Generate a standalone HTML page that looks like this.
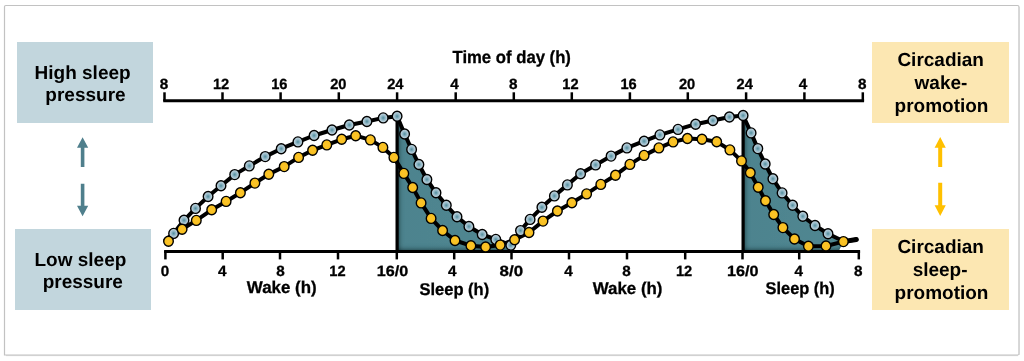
<!DOCTYPE html><html><head><meta charset="utf-8"><style>html,body{margin:0;padding:0;background:#fff;}svg{display:block;will-change:transform;}</style></head><body>
<svg width="1024" height="361" viewBox="0 0 1024 361" font-family='"Liberation Sans", sans-serif' text-rendering="geometricPrecision">
<defs>
<radialGradient id="bd" cx="50%" cy="50%" r="50%"><stop offset="0" stop-color="#4f8d9c"/><stop offset="0.45" stop-color="#93b7c6"/><stop offset="0.8" stop-color="#b8cfda"/><stop offset="1" stop-color="#cfe0e9"/></radialGradient>
<radialGradient id="yd" cx="50%" cy="50%" r="50%"><stop offset="0" stop-color="#fcc42a"/><stop offset="0.8" stop-color="#f8c020"/><stop offset="1" stop-color="#e9ae10"/></radialGradient>
<linearGradient id="fl" x1="0" y1="0" x2="1" y2="0"><stop offset="0" stop-color="#4d838e"/><stop offset="1" stop-color="#518791"/></linearGradient>
<filter id="ins" x="-5%" y="-5%" width="110%" height="110%"><feFlood flood-color="#0a2026" flood-opacity="1"/><feComposite in2="SourceAlpha" operator="out"/><feOffset dx="2.2" dy="-2.2"/><feGaussianBlur stdDeviation="2.4"/><feComposite in2="SourceAlpha" operator="in" result="sh"/><feMerge><feMergeNode in="SourceGraphic"/><feMergeNode in="sh"/></feMerge></filter>
</defs>
<rect width="1024" height="361" fill="#fff"/>
<path d="M4.5,355 L4.5,6.8 Q4.5,5.5 5.8,5.5 L1017.5,5.5 Q1019,5.5 1019,7 L1019,353.5 Q1019,355 1017.5,355 Z" fill="none" stroke="#c2c2c2" stroke-width="1.2"/>
<line x1="1019.2" y1="7" x2="1019.2" y2="355" stroke="#d4d4d4" stroke-width="1"/>
<line x1="6" y1="355.6" x2="1018" y2="355.6" stroke="#d0d0d0" stroke-width="1"/>
<rect x="17" y="42" width="136" height="81" fill="#c2d6dd"/>
<rect x="15" y="229" width="136" height="81" fill="#c2d6dd"/>
<rect x="872" y="42" width="137" height="81" fill="#fce7b2"/>
<rect x="872" y="229" width="137" height="81" fill="#fce7b2"/>
<text x="82.6" y="78.6" font-size="19" font-weight="bold" text-anchor="middle" fill="#000" >High sleep</text>
<text x="85.5" y="101.2" font-size="19" font-weight="bold" text-anchor="middle" fill="#000" >pressure</text>
<text x="80.4" y="265.5" font-size="19" font-weight="bold" text-anchor="middle" fill="#000" >Low sleep</text>
<text x="82.8" y="287.8" font-size="19" font-weight="bold" text-anchor="middle" fill="#000" >pressure</text>
<text x="940.7" y="66.1" font-size="19" font-weight="bold" text-anchor="middle" fill="#000" >Circadian</text>
<text x="941.0" y="89.1" font-size="19" font-weight="bold" text-anchor="middle" fill="#000" >wake-</text>
<text x="941.5" y="112.4" font-size="19" font-weight="bold" text-anchor="middle" fill="#000" >promotion</text>
<text x="940.7" y="253.2" font-size="19" font-weight="bold" text-anchor="middle" fill="#000" >Circadian</text>
<text x="940.1" y="276.1" font-size="19" font-weight="bold" text-anchor="middle" fill="#000" >sleep-</text>
<text x="941.5" y="298.7" font-size="19" font-weight="bold" text-anchor="middle" fill="#000" >promotion</text>
<path d="M82.6,137.2 L88.2,147.7 L84.4,147.7 L84.4,167.0 L80.8,167.0 L80.8,147.7 L77.0,147.7 Z" fill="#4f7f8c"/>
<path d="M82.6,216.3 L88.2,205.8 L84.4,205.8 L84.4,183.7 L80.8,183.7 L80.8,205.8 L77.0,205.8 Z" fill="#4f7f8c"/>
<path d="M940.2,136.9 L945.8,147.7 L942.2,147.7 L942.2,167.0 L938.2,167.0 L938.2,147.7 L934.6,147.7 Z" fill="#ffc000"/>
<path d="M940.2,216.1 L945.8,205.3 L942.2,205.3 L942.2,182.8 L938.2,182.8 L938.2,205.3 L934.6,205.3 Z" fill="#ffc000"/>
<line x1="163.2" y1="100.7" x2="864.1" y2="100.7" stroke="#000" stroke-width="2.9"/>
<line x1="164.5" y1="92.3" x2="164.5" y2="101" stroke="#000" stroke-width="2.5"/>
<line x1="222.5" y1="92.3" x2="222.5" y2="101" stroke="#000" stroke-width="2.5"/>
<line x1="280.6" y1="92.3" x2="280.6" y2="101" stroke="#000" stroke-width="2.5"/>
<line x1="338.8" y1="92.3" x2="338.8" y2="101" stroke="#000" stroke-width="2.5"/>
<line x1="397.1" y1="92.3" x2="397.1" y2="101" stroke="#000" stroke-width="2.5"/>
<line x1="455.7" y1="92.3" x2="455.7" y2="101" stroke="#000" stroke-width="2.5"/>
<line x1="513.8" y1="92.3" x2="513.8" y2="101" stroke="#000" stroke-width="2.5"/>
<line x1="571.8" y1="92.3" x2="571.8" y2="101" stroke="#000" stroke-width="2.5"/>
<line x1="629.9" y1="92.3" x2="629.9" y2="101" stroke="#000" stroke-width="2.5"/>
<line x1="687.8" y1="92.3" x2="687.8" y2="101" stroke="#000" stroke-width="2.5"/>
<line x1="746.1" y1="92.3" x2="746.1" y2="101" stroke="#000" stroke-width="2.5"/>
<line x1="804.4" y1="92.3" x2="804.4" y2="101" stroke="#000" stroke-width="2.5"/>
<line x1="862.8" y1="92.3" x2="862.8" y2="101" stroke="#000" stroke-width="2.5"/>
<text transform="translate(159.77,89.10) scale(1.030,1)" font-size="14.80" font-weight="bold" fill="#000" stroke="#000" stroke-width="0.3">8</text>
<text transform="translate(212.88,89.10) scale(0.990,1)" font-size="14.80" font-weight="bold" fill="#000" stroke="#000" stroke-width="0.3">12</text>
<text transform="translate(271.15,89.10) scale(0.990,1)" font-size="14.80" font-weight="bold" fill="#000" stroke="#000" stroke-width="0.3">16</text>
<text transform="translate(330.20,89.10) scale(0.990,1)" font-size="14.80" font-weight="bold" fill="#000" stroke="#000" stroke-width="0.3">20</text>
<text transform="translate(387.15,89.10) scale(0.990,1)" font-size="14.80" font-weight="bold" fill="#000" stroke="#000" stroke-width="0.3">24</text>
<text transform="translate(450.29,89.10) scale(1.030,1)" font-size="14.80" font-weight="bold" fill="#000" stroke="#000" stroke-width="0.3">4</text>
<text transform="translate(508.97,89.10) scale(1.030,1)" font-size="14.80" font-weight="bold" fill="#000" stroke="#000" stroke-width="0.3">8</text>
<text transform="translate(562.28,89.10) scale(0.990,1)" font-size="14.80" font-weight="bold" fill="#000" stroke="#000" stroke-width="0.3">12</text>
<text transform="translate(620.45,89.10) scale(0.990,1)" font-size="14.80" font-weight="bold" fill="#000" stroke="#000" stroke-width="0.3">16</text>
<text transform="translate(678.90,89.10) scale(0.990,1)" font-size="14.80" font-weight="bold" fill="#000" stroke="#000" stroke-width="0.3">20</text>
<text transform="translate(736.55,89.10) scale(0.990,1)" font-size="14.80" font-weight="bold" fill="#000" stroke="#000" stroke-width="0.3">24</text>
<text transform="translate(798.79,89.10) scale(1.030,1)" font-size="14.80" font-weight="bold" fill="#000" stroke="#000" stroke-width="0.3">4</text>
<text transform="translate(858.07,89.10) scale(1.030,1)" font-size="14.80" font-weight="bold" fill="#000" stroke="#000" stroke-width="0.3">8</text>
<text transform="translate(452.48,63.00) scale(0.954,1)" font-size="17.50" font-weight="bold" fill="#000" stroke="#000" stroke-width="0.3">Time of day (h)</text>
<polygon points="397.1,116.3 404.6,134.0 411.6,149.4 418.9,164.5 426.9,179.5 436.0,192.8 446.3,205.3 457.0,216.8 468.9,226.5 482.2,234.5 495.8,239.4 510.8,245.2 510.8,251.5 397.1,251.5" fill="url(#fl)" filter="url(#ins)"/>
<polygon points="743.1,115.5 751.1,132.9 757.8,148.6 765.2,164.0 772.9,178.8 782.1,192.9 792.6,205.3 802.8,216.3 815.0,225.5 828.0,233.7 843.4,241.5 838.5,251.5 743.1,251.5" fill="url(#fl)" filter="url(#ins)"/>
<line x1="164.1" y1="251.5" x2="860.1" y2="251.5" stroke="#000" stroke-width="3.0"/>
<line x1="165.4" y1="251" x2="165.4" y2="259.4" stroke="#000" stroke-width="2.5"/>
<line x1="222.7" y1="251" x2="222.7" y2="259.4" stroke="#000" stroke-width="2.5"/>
<line x1="280.0" y1="251" x2="280.0" y2="259.4" stroke="#000" stroke-width="2.5"/>
<line x1="338.0" y1="251" x2="338.0" y2="259.4" stroke="#000" stroke-width="2.5"/>
<line x1="396.8" y1="251" x2="396.8" y2="259.4" stroke="#000" stroke-width="2.5"/>
<line x1="454.2" y1="251" x2="454.2" y2="259.4" stroke="#000" stroke-width="2.5"/>
<line x1="511.5" y1="251" x2="511.5" y2="259.4" stroke="#000" stroke-width="2.5"/>
<line x1="569.0" y1="251" x2="569.0" y2="259.4" stroke="#000" stroke-width="2.5"/>
<line x1="627.0" y1="251" x2="627.0" y2="259.4" stroke="#000" stroke-width="2.5"/>
<line x1="685.2" y1="251" x2="685.2" y2="259.4" stroke="#000" stroke-width="2.5"/>
<line x1="742.5" y1="251" x2="742.5" y2="259.4" stroke="#000" stroke-width="2.5"/>
<line x1="799.2" y1="251" x2="799.2" y2="259.4" stroke="#000" stroke-width="2.5"/>
<line x1="858.8" y1="251" x2="858.8" y2="259.4" stroke="#000" stroke-width="2.5"/>
<text transform="translate(160.77,275.70) scale(1.030,1)" font-size="14.80" font-weight="bold" fill="#000" stroke="#000" stroke-width="0.3">0</text>
<text transform="translate(217.99,275.70) scale(1.030,1)" font-size="14.80" font-weight="bold" fill="#000" stroke="#000" stroke-width="0.3">4</text>
<text transform="translate(276.17,275.70) scale(1.030,1)" font-size="14.80" font-weight="bold" fill="#000" stroke="#000" stroke-width="0.3">8</text>
<text transform="translate(329.30,275.70) scale(0.989,1)" font-size="14.80" font-weight="bold" fill="#000" stroke="#000" stroke-width="0.3">12</text>
<text transform="translate(376.78,275.70) scale(1.092,1)" font-size="14.80" font-weight="bold" fill="#000" stroke="#000" stroke-width="0.3">16/0</text>
<text transform="translate(448.09,275.70) scale(1.030,1)" font-size="14.80" font-weight="bold" fill="#000" stroke="#000" stroke-width="0.3">4</text>
<text transform="translate(499.52,275.70) scale(1.143,1)" font-size="14.80" font-weight="bold" fill="#000" stroke="#000" stroke-width="0.3">8/0</text>
<text transform="translate(564.29,275.70) scale(1.030,1)" font-size="14.80" font-weight="bold" fill="#000" stroke="#000" stroke-width="0.3">4</text>
<text transform="translate(622.37,275.70) scale(1.030,1)" font-size="14.80" font-weight="bold" fill="#000" stroke="#000" stroke-width="0.3">8</text>
<text transform="translate(675.90,275.70) scale(0.989,1)" font-size="14.80" font-weight="bold" fill="#000" stroke="#000" stroke-width="0.3">12</text>
<text transform="translate(726.98,275.70) scale(1.092,1)" font-size="14.80" font-weight="bold" fill="#000" stroke="#000" stroke-width="0.3">16/0</text>
<text transform="translate(794.59,275.70) scale(1.030,1)" font-size="14.80" font-weight="bold" fill="#000" stroke="#000" stroke-width="0.3">4</text>
<text transform="translate(854.07,275.70) scale(1.030,1)" font-size="14.80" font-weight="bold" fill="#000" stroke="#000" stroke-width="0.3">8</text>
<text transform="translate(246.85,293.40) scale(0.995,1)" font-size="17.00" font-weight="bold" fill="#000" stroke="#000" stroke-width="0.3">Wake (h)</text>
<text transform="translate(419.45,294.50) scale(0.971,1)" font-size="17.00" font-weight="bold" fill="#000" stroke="#000" stroke-width="0.3">Sleep (h)</text>
<text transform="translate(592.75,293.50) scale(0.993,1)" font-size="17.00" font-weight="bold" fill="#000" stroke="#000" stroke-width="0.3">Wake (h)</text>
<text transform="translate(765.56,294.20) scale(0.964,1)" font-size="17.00" font-weight="bold" fill="#000" stroke="#000" stroke-width="0.3">Sleep (h)</text>
<line x1="397.1" y1="116.3" x2="397.1" y2="252" stroke="#000" stroke-width="3.2"/>
<line x1="743.1" y1="115.5" x2="743.1" y2="252" stroke="#000" stroke-width="3.2"/>
<polyline points="165.5,240.0 173.6,233.4 184.0,220.3 195.5,208.4 208.1,196.5 221.0,185.8 234.7,174.6 249.3,165.9 265.2,156.6 281.2,148.7 297.9,141.9 314.1,135.5 332.0,130.0 349.3,125.0 366.9,121.5 383.2,117.9 397.1,116.3 404.6,134.0 411.6,149.4 418.9,164.5 426.9,179.5 436.0,192.8 446.3,205.3 457.0,216.8 468.9,226.5 482.2,234.5 495.8,239.4 510.8,245.2 520.5,230.6 530.1,219.4 541.9,207.3 554.4,195.9 567.4,184.9 580.6,173.7 595.6,164.9 611.1,156.1 626.9,147.9 644.1,141.2 659.9,134.9 678.0,129.4 695.6,124.2 712.9,120.5 729.4,117.0 743.1,115.5 751.1,132.9 757.8,148.6 765.2,164.0 772.9,178.8 782.1,192.9 792.6,205.3 802.8,216.3 815.0,225.5 828.0,233.7 842.0,240.5" fill="none" stroke="#000" stroke-width="4.0" stroke-linejoin="round" stroke-linecap="round"/>
<polyline points="168.5,241.3 182.1,229.3 196.3,220.4 211.7,209.8 226.1,201.4 240.4,192.7 254.9,183.1 268.8,174.3 284.2,166.6 298.6,157.4 312.6,150.3 326.8,144.9 341.7,139.3 355.7,135.7 370.4,139.9 382.9,147.4 393.9,157.4 403.8,173.4 412.7,187.5 421.1,202.9 431.1,218.4 442.6,230.5 455.0,240.5 470.9,245.7 485.6,247.0 500.2,245.1 514.6,239.8 529.0,232.5 543.0,221.1 557.4,211.0 571.9,202.8 586.6,193.9 600.8,184.4 615.5,175.2 629.9,164.4 644.1,155.4 658.9,147.9 673.1,141.9 687.4,138.5 702.0,139.2 716.7,141.7 729.9,149.9 741.5,160.9 750.3,172.8 758.2,187.2 765.5,200.8 773.7,214.5 782.9,227.6 794.5,239.0 808.4,246.2 826.0,246.0 843.4,241.6 856.3,239.5" fill="none" stroke="#000" stroke-width="4.0" stroke-linejoin="round" stroke-linecap="round"/>
<line x1="843.4" y1="241.6" x2="856.3" y2="239.5" stroke="#000" stroke-width="5" stroke-linecap="round"/>
<ellipse cx="173.6" cy="233.4" rx="4.8" ry="5.0" fill="url(#bd)" stroke="#000" stroke-width="1.4"/>
<ellipse cx="184.0" cy="220.3" rx="4.8" ry="5.0" fill="url(#bd)" stroke="#000" stroke-width="1.4"/>
<ellipse cx="195.5" cy="208.4" rx="4.8" ry="5.0" fill="url(#bd)" stroke="#000" stroke-width="1.4"/>
<ellipse cx="208.1" cy="196.5" rx="4.8" ry="5.0" fill="url(#bd)" stroke="#000" stroke-width="1.4"/>
<ellipse cx="221.0" cy="185.8" rx="4.8" ry="5.0" fill="url(#bd)" stroke="#000" stroke-width="1.4"/>
<ellipse cx="234.7" cy="174.6" rx="4.8" ry="5.0" fill="url(#bd)" stroke="#000" stroke-width="1.4"/>
<ellipse cx="249.3" cy="165.9" rx="4.8" ry="5.0" fill="url(#bd)" stroke="#000" stroke-width="1.4"/>
<ellipse cx="265.2" cy="156.6" rx="4.8" ry="5.0" fill="url(#bd)" stroke="#000" stroke-width="1.4"/>
<ellipse cx="281.2" cy="148.7" rx="4.8" ry="5.0" fill="url(#bd)" stroke="#000" stroke-width="1.4"/>
<ellipse cx="297.9" cy="141.9" rx="4.8" ry="5.0" fill="url(#bd)" stroke="#000" stroke-width="1.4"/>
<ellipse cx="314.1" cy="135.5" rx="4.8" ry="5.0" fill="url(#bd)" stroke="#000" stroke-width="1.4"/>
<ellipse cx="332.0" cy="130.0" rx="4.8" ry="5.0" fill="url(#bd)" stroke="#000" stroke-width="1.4"/>
<ellipse cx="349.3" cy="125.0" rx="4.8" ry="5.0" fill="url(#bd)" stroke="#000" stroke-width="1.4"/>
<ellipse cx="366.9" cy="121.5" rx="4.8" ry="5.0" fill="url(#bd)" stroke="#000" stroke-width="1.4"/>
<ellipse cx="383.2" cy="117.9" rx="4.8" ry="5.0" fill="url(#bd)" stroke="#000" stroke-width="1.4"/>
<ellipse cx="397.1" cy="116.3" rx="4.8" ry="5.0" fill="url(#bd)" stroke="#000" stroke-width="1.4"/>
<ellipse cx="404.6" cy="134.0" rx="4.8" ry="5.0" fill="url(#bd)" stroke="#000" stroke-width="1.4"/>
<ellipse cx="411.6" cy="149.4" rx="4.8" ry="5.0" fill="url(#bd)" stroke="#000" stroke-width="1.4"/>
<ellipse cx="418.9" cy="164.5" rx="4.8" ry="5.0" fill="url(#bd)" stroke="#000" stroke-width="1.4"/>
<ellipse cx="426.9" cy="179.5" rx="4.8" ry="5.0" fill="url(#bd)" stroke="#000" stroke-width="1.4"/>
<ellipse cx="436.0" cy="192.8" rx="4.8" ry="5.0" fill="url(#bd)" stroke="#000" stroke-width="1.4"/>
<ellipse cx="446.3" cy="205.3" rx="4.8" ry="5.0" fill="url(#bd)" stroke="#000" stroke-width="1.4"/>
<ellipse cx="457.0" cy="216.8" rx="4.8" ry="5.0" fill="url(#bd)" stroke="#000" stroke-width="1.4"/>
<ellipse cx="468.9" cy="226.5" rx="4.8" ry="5.0" fill="url(#bd)" stroke="#000" stroke-width="1.4"/>
<ellipse cx="482.2" cy="234.5" rx="4.8" ry="5.0" fill="url(#bd)" stroke="#000" stroke-width="1.4"/>
<ellipse cx="495.8" cy="239.4" rx="4.8" ry="5.0" fill="url(#bd)" stroke="#000" stroke-width="1.4"/>
<ellipse cx="510.8" cy="245.2" rx="4.8" ry="5.0" fill="url(#bd)" stroke="#000" stroke-width="1.4"/>
<ellipse cx="520.5" cy="230.6" rx="4.8" ry="5.0" fill="url(#bd)" stroke="#000" stroke-width="1.4"/>
<ellipse cx="530.1" cy="219.4" rx="4.8" ry="5.0" fill="url(#bd)" stroke="#000" stroke-width="1.4"/>
<ellipse cx="541.9" cy="207.3" rx="4.8" ry="5.0" fill="url(#bd)" stroke="#000" stroke-width="1.4"/>
<ellipse cx="554.4" cy="195.9" rx="4.8" ry="5.0" fill="url(#bd)" stroke="#000" stroke-width="1.4"/>
<ellipse cx="567.4" cy="184.9" rx="4.8" ry="5.0" fill="url(#bd)" stroke="#000" stroke-width="1.4"/>
<ellipse cx="580.6" cy="173.7" rx="4.8" ry="5.0" fill="url(#bd)" stroke="#000" stroke-width="1.4"/>
<ellipse cx="595.6" cy="164.9" rx="4.8" ry="5.0" fill="url(#bd)" stroke="#000" stroke-width="1.4"/>
<ellipse cx="611.1" cy="156.1" rx="4.8" ry="5.0" fill="url(#bd)" stroke="#000" stroke-width="1.4"/>
<ellipse cx="626.9" cy="147.9" rx="4.8" ry="5.0" fill="url(#bd)" stroke="#000" stroke-width="1.4"/>
<ellipse cx="644.1" cy="141.2" rx="4.8" ry="5.0" fill="url(#bd)" stroke="#000" stroke-width="1.4"/>
<ellipse cx="659.9" cy="134.9" rx="4.8" ry="5.0" fill="url(#bd)" stroke="#000" stroke-width="1.4"/>
<ellipse cx="678.0" cy="129.4" rx="4.8" ry="5.0" fill="url(#bd)" stroke="#000" stroke-width="1.4"/>
<ellipse cx="695.6" cy="124.2" rx="4.8" ry="5.0" fill="url(#bd)" stroke="#000" stroke-width="1.4"/>
<ellipse cx="712.9" cy="120.5" rx="4.8" ry="5.0" fill="url(#bd)" stroke="#000" stroke-width="1.4"/>
<ellipse cx="729.4" cy="117.0" rx="4.8" ry="5.0" fill="url(#bd)" stroke="#000" stroke-width="1.4"/>
<ellipse cx="743.1" cy="115.5" rx="4.8" ry="5.0" fill="url(#bd)" stroke="#000" stroke-width="1.4"/>
<ellipse cx="751.1" cy="132.9" rx="4.8" ry="5.0" fill="url(#bd)" stroke="#000" stroke-width="1.4"/>
<ellipse cx="757.8" cy="148.6" rx="4.8" ry="5.0" fill="url(#bd)" stroke="#000" stroke-width="1.4"/>
<ellipse cx="765.2" cy="164.0" rx="4.8" ry="5.0" fill="url(#bd)" stroke="#000" stroke-width="1.4"/>
<ellipse cx="772.9" cy="178.8" rx="4.8" ry="5.0" fill="url(#bd)" stroke="#000" stroke-width="1.4"/>
<ellipse cx="782.1" cy="192.9" rx="4.8" ry="5.0" fill="url(#bd)" stroke="#000" stroke-width="1.4"/>
<ellipse cx="792.6" cy="205.3" rx="4.8" ry="5.0" fill="url(#bd)" stroke="#000" stroke-width="1.4"/>
<ellipse cx="802.8" cy="216.3" rx="4.8" ry="5.0" fill="url(#bd)" stroke="#000" stroke-width="1.4"/>
<ellipse cx="815.0" cy="225.5" rx="4.8" ry="5.0" fill="url(#bd)" stroke="#000" stroke-width="1.4"/>
<ellipse cx="828.0" cy="233.7" rx="4.8" ry="5.0" fill="url(#bd)" stroke="#000" stroke-width="1.4"/>
<ellipse cx="168.5" cy="241.3" rx="4.8" ry="5.0" fill="url(#yd)" stroke="#000" stroke-width="1.4"/>
<ellipse cx="182.1" cy="229.3" rx="4.8" ry="5.0" fill="url(#yd)" stroke="#000" stroke-width="1.4"/>
<ellipse cx="196.3" cy="220.4" rx="4.8" ry="5.0" fill="url(#yd)" stroke="#000" stroke-width="1.4"/>
<ellipse cx="211.7" cy="209.8" rx="4.8" ry="5.0" fill="url(#yd)" stroke="#000" stroke-width="1.4"/>
<ellipse cx="226.1" cy="201.4" rx="4.8" ry="5.0" fill="url(#yd)" stroke="#000" stroke-width="1.4"/>
<ellipse cx="240.4" cy="192.7" rx="4.8" ry="5.0" fill="url(#yd)" stroke="#000" stroke-width="1.4"/>
<ellipse cx="254.9" cy="183.1" rx="4.8" ry="5.0" fill="url(#yd)" stroke="#000" stroke-width="1.4"/>
<ellipse cx="268.8" cy="174.3" rx="4.8" ry="5.0" fill="url(#yd)" stroke="#000" stroke-width="1.4"/>
<ellipse cx="284.2" cy="166.6" rx="4.8" ry="5.0" fill="url(#yd)" stroke="#000" stroke-width="1.4"/>
<ellipse cx="298.6" cy="157.4" rx="4.8" ry="5.0" fill="url(#yd)" stroke="#000" stroke-width="1.4"/>
<ellipse cx="312.6" cy="150.3" rx="4.8" ry="5.0" fill="url(#yd)" stroke="#000" stroke-width="1.4"/>
<ellipse cx="326.8" cy="144.9" rx="4.8" ry="5.0" fill="url(#yd)" stroke="#000" stroke-width="1.4"/>
<ellipse cx="341.7" cy="139.3" rx="4.8" ry="5.0" fill="url(#yd)" stroke="#000" stroke-width="1.4"/>
<ellipse cx="355.7" cy="135.7" rx="4.8" ry="5.0" fill="url(#yd)" stroke="#000" stroke-width="1.4"/>
<ellipse cx="370.4" cy="139.9" rx="4.8" ry="5.0" fill="url(#yd)" stroke="#000" stroke-width="1.4"/>
<ellipse cx="382.9" cy="147.4" rx="4.8" ry="5.0" fill="url(#yd)" stroke="#000" stroke-width="1.4"/>
<ellipse cx="393.9" cy="157.4" rx="4.8" ry="5.0" fill="url(#yd)" stroke="#000" stroke-width="1.4"/>
<ellipse cx="403.8" cy="173.4" rx="4.8" ry="5.0" fill="url(#yd)" stroke="#000" stroke-width="1.4"/>
<ellipse cx="412.7" cy="187.5" rx="4.8" ry="5.0" fill="url(#yd)" stroke="#000" stroke-width="1.4"/>
<ellipse cx="421.1" cy="202.9" rx="4.8" ry="5.0" fill="url(#yd)" stroke="#000" stroke-width="1.4"/>
<ellipse cx="431.1" cy="218.4" rx="4.8" ry="5.0" fill="url(#yd)" stroke="#000" stroke-width="1.4"/>
<ellipse cx="442.6" cy="230.5" rx="4.8" ry="5.0" fill="url(#yd)" stroke="#000" stroke-width="1.4"/>
<ellipse cx="455.0" cy="240.5" rx="4.8" ry="5.0" fill="url(#yd)" stroke="#000" stroke-width="1.4"/>
<ellipse cx="470.9" cy="245.7" rx="4.8" ry="5.0" fill="url(#yd)" stroke="#000" stroke-width="1.4"/>
<ellipse cx="485.6" cy="247.0" rx="4.8" ry="5.0" fill="url(#yd)" stroke="#000" stroke-width="1.4"/>
<ellipse cx="500.2" cy="245.1" rx="4.8" ry="5.0" fill="url(#yd)" stroke="#000" stroke-width="1.4"/>
<ellipse cx="514.6" cy="239.8" rx="4.8" ry="5.0" fill="url(#yd)" stroke="#000" stroke-width="1.4"/>
<ellipse cx="529.0" cy="232.5" rx="4.8" ry="5.0" fill="url(#yd)" stroke="#000" stroke-width="1.4"/>
<ellipse cx="543.0" cy="221.1" rx="4.8" ry="5.0" fill="url(#yd)" stroke="#000" stroke-width="1.4"/>
<ellipse cx="557.4" cy="211.0" rx="4.8" ry="5.0" fill="url(#yd)" stroke="#000" stroke-width="1.4"/>
<ellipse cx="571.9" cy="202.8" rx="4.8" ry="5.0" fill="url(#yd)" stroke="#000" stroke-width="1.4"/>
<ellipse cx="586.6" cy="193.9" rx="4.8" ry="5.0" fill="url(#yd)" stroke="#000" stroke-width="1.4"/>
<ellipse cx="600.8" cy="184.4" rx="4.8" ry="5.0" fill="url(#yd)" stroke="#000" stroke-width="1.4"/>
<ellipse cx="615.5" cy="175.2" rx="4.8" ry="5.0" fill="url(#yd)" stroke="#000" stroke-width="1.4"/>
<ellipse cx="629.9" cy="164.4" rx="4.8" ry="5.0" fill="url(#yd)" stroke="#000" stroke-width="1.4"/>
<ellipse cx="644.1" cy="155.4" rx="4.8" ry="5.0" fill="url(#yd)" stroke="#000" stroke-width="1.4"/>
<ellipse cx="658.9" cy="147.9" rx="4.8" ry="5.0" fill="url(#yd)" stroke="#000" stroke-width="1.4"/>
<ellipse cx="673.1" cy="141.9" rx="4.8" ry="5.0" fill="url(#yd)" stroke="#000" stroke-width="1.4"/>
<ellipse cx="687.4" cy="138.5" rx="4.8" ry="5.0" fill="url(#yd)" stroke="#000" stroke-width="1.4"/>
<ellipse cx="702.0" cy="139.2" rx="4.8" ry="5.0" fill="url(#yd)" stroke="#000" stroke-width="1.4"/>
<ellipse cx="716.7" cy="141.7" rx="4.8" ry="5.0" fill="url(#yd)" stroke="#000" stroke-width="1.4"/>
<ellipse cx="729.9" cy="149.9" rx="4.8" ry="5.0" fill="url(#yd)" stroke="#000" stroke-width="1.4"/>
<ellipse cx="741.5" cy="160.9" rx="4.8" ry="5.0" fill="url(#yd)" stroke="#000" stroke-width="1.4"/>
<ellipse cx="750.3" cy="172.8" rx="4.8" ry="5.0" fill="url(#yd)" stroke="#000" stroke-width="1.4"/>
<ellipse cx="758.2" cy="187.2" rx="4.8" ry="5.0" fill="url(#yd)" stroke="#000" stroke-width="1.4"/>
<ellipse cx="765.5" cy="200.8" rx="4.8" ry="5.0" fill="url(#yd)" stroke="#000" stroke-width="1.4"/>
<ellipse cx="773.7" cy="214.5" rx="4.8" ry="5.0" fill="url(#yd)" stroke="#000" stroke-width="1.4"/>
<ellipse cx="782.9" cy="227.6" rx="4.8" ry="5.0" fill="url(#yd)" stroke="#000" stroke-width="1.4"/>
<ellipse cx="794.5" cy="239.0" rx="4.8" ry="5.0" fill="url(#yd)" stroke="#000" stroke-width="1.4"/>
<ellipse cx="808.4" cy="246.2" rx="4.8" ry="5.0" fill="url(#yd)" stroke="#000" stroke-width="1.4"/>
<ellipse cx="826.0" cy="246.0" rx="4.8" ry="5.0" fill="url(#yd)" stroke="#000" stroke-width="1.4"/>
<ellipse cx="843.4" cy="241.6" rx="4.8" ry="5.0" fill="url(#yd)" stroke="#000" stroke-width="1.4"/>
</svg></body></html>
